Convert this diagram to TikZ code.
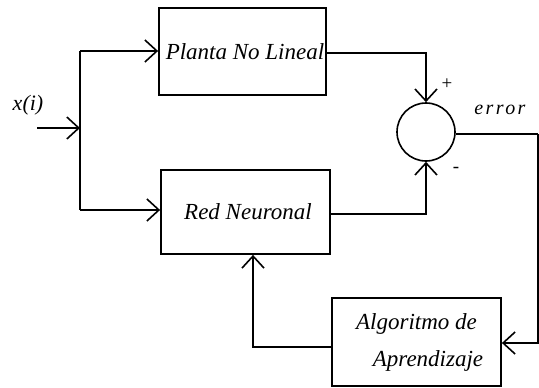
\documentclass[tikz,border=0pt]{standalone}
\usepackage{fontspec}
\setmainfont{Liberation Serif}
\usetikzlibrary{arrows.meta}
\begin{document}
\begin{tikzpicture}[x=1pt,y=-1pt,
  wire/.style={line width=1.6pt, line join=miter},
  tip/.style={-{Straight Barb[length=12pt,width=22pt,line width=1.6pt]}},
  blk/.style={draw, line width=1.8pt, rectangle, inner sep=0pt, font=\fontsize{23}{26}\selectfont\itshape},
  lbl/.style={font=\fontsize{22}{25}\selectfont\itshape, inner sep=0pt}]
\useasboundingbox (0,0) rectangle (539,388);
% blocks
\node[blk, minimum width=167pt, minimum height=87pt] (plant) at (242.5,51.5) {\hspace*{5pt}Planta No Lineal};
\node[blk, minimum width=169pt, minimum height=84pt] (red) at (245.5,212) {\hspace*{5pt}Red Neuronal};
\node[blk, minimum width=169pt, minimum height=88pt, align=center] (algo) at (416.5,342) {Algoritmo de\\[11pt]\hspace*{1em}Aprendizaje};
\node[draw, circle, line width=1.6pt, minimum size=58pt, inner sep=0pt] (sum) at (426,132) {};
% labels
\node[lbl] (xi) at (28,105) {x(i)};
\node[lbl, font=\fontsize{19}{21}\selectfont] (plus) at (447,84) {+};
\node[lbl, font=\fontsize{20}{23}\selectfont\itshape] (err) at (500,110) {\addfontfeature{LetterSpace=12}error};
\node[lbl, font=\fontsize{19}{21}\selectfont] (minus) at (456,170) {-};
% coordinates
\coordinate (xin) at (37,128);
\coordinate (jn) at (80,128);
\coordinate (jtop) at (80,51);
\coordinate (jbot) at (80,210);
\coordinate (rc) at (538,134);
% connectors
\draw[wire, tip] (xin) -- (jn);
\draw[line width=1.2pt] (jtop) -- (jbot);
\draw[wire, tip] (jtop) -- (plant.west |- jtop);
\draw[wire, tip] (jbot) -- (red.west |- jbot);
\draw[wire, tip] (plant.east |- 0,53) -| (sum.north);
\draw[wire, tip] (red.east |- 0,214) -| (sum.south);
\draw[wire] (sum.east |- rc) -- (rc);
\draw[wire, tip] (rc) |- (algo.east |- 0,343);
\draw[wire, tip] (algo.west |- 0,347) -| (253,0 |- red.south);
\end{tikzpicture}
\end{document}
